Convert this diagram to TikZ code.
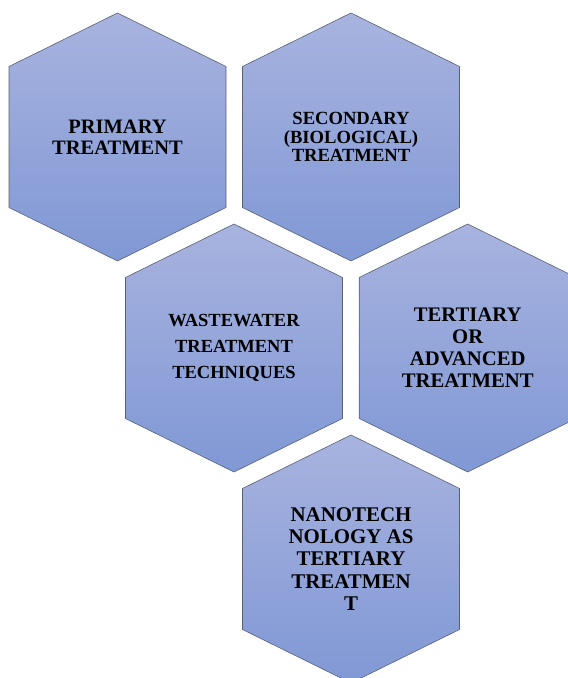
\documentclass[tikz,border=0pt]{standalone}
\usepackage{fontspec}
\setmainfont{Liberation Serif}
\usetikzlibrary{positioning}

\definecolor{hextop}{RGB}{168,179,223}
\definecolor{hexbottom}{RGB}{128,152,213}
\definecolor{hexline}{RGB}{88,96,116}

\tikzset{
  hex/.style={draw=hexline,line width=0.6pt,top color=hextop,bottom color=hexbottom},
  cell/.style={align=center,text=black,inner sep=0pt}
}

% pointy-top hexagon around a named point
\newcommand{\hexcell}[1]{%
  \path[hex] ([shift={(0,124)}]#1) -- ([shift={(108.5,70.5)}]#1)
    -- ([shift={(108.5,-70.5)}]#1) -- ([shift={(0,-124)}]#1)
    -- ([shift={(-108.5,-70.5)}]#1) -- ([shift={(-108.5,70.5)}]#1) -- cycle;}

\begin{document}
\begin{tikzpicture}[x=1pt,y=1pt]
    \useasboundingbox (0,0) rectangle (568,678);
    \clip (0,0) rectangle (568,678);

    \coordinate (waste) at (234,330);
    \coordinate [above left=211pt and 116.5pt of waste] (primary);
    \coordinate [above right=211pt and 117pt of waste] (secondary);
    \coordinate [right=233.7pt of waste] (tertiary);
    \coordinate [below right=211pt and 117pt of waste] (nano);

    \hexcell{primary}
    \hexcell{secondary}
    \hexcell{waste}
    \hexcell{tertiary}
    \hexcell{nano}

    \node[cell,font=\fontsize{20.5}{21}\selectfont\bfseries] (primary text) at (primary) {PRIMARY\\TREATMENT};
    \node[cell,font=\fontsize{18.6}{18.8}\selectfont\bfseries] (secondary text) at (secondary) {SECONDARY\\(BIOLOGICAL)\\TREATMENT};
    \node[cell,font=\fontsize{18.5}{26.3}\selectfont\bfseries] (waste text) at (waste) {WASTEWATER\\TREATMENT\\TECHNIQUES};
    \node[cell,font=\fontsize{20.7}{22}\selectfont\bfseries] (tertiary text) at (tertiary) {TERTIARY\\OR\\ADVANCED\\TREATMENT};
    \node[cell,font=\fontsize{20.9}{22.4}\selectfont\bfseries] (nano text) at (nano) {NANOTECH\\NOLOGY AS\\TERTIARY\\TREATMEN\\T};
\end{tikzpicture}
\end{document}
